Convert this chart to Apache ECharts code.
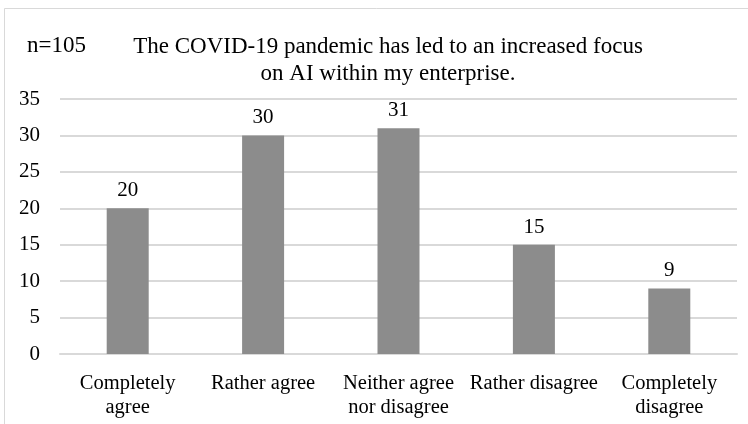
<!DOCTYPE html>
<html>
<head>
<meta charset="utf-8">
<script src="https://cdn.jsdelivr.net/npm/echarts@6/dist/echarts.min.js"></script>
<style>
  html, body { margin: 0; padding: 0; background: #fff; }
  #chart { width: 748px; height: 424px; }
</style>
</head>
<body>
<div id="chart"></div>
<script>
(function(){

    var categories = ['Completely\nagree', 'Rather agree', 'Neither agree\nnor disagree', 'Rather disagree', 'Completely\ndisagree'],
        values = [20, 30, 31, 15, 9],
        sampleLabel = 'n=105',
        titleText = 'The COVID-19 pandemic has led to an increased focus\non AI within my enterprise.',
        serif = '"Liberation Serif", "DejaVu Serif", serif',
        chart = echarts.init(document.getElementById('chart'))

    var option = {
        backgroundColor: '#fff',
        animation: false,
        graphic: [{
            type: 'rect',
            shape: { x: 4.5, y: 8.5, width: 760, height: 440 },
            style: { fill: 'none', stroke: '#d9d9d9', lineWidth: 1 }
        }],
        title: [
            {
                text: sampleLabel,
                left: 22,
                top: 29,
                textStyle: { fontFamily: serif, fontSize: 23, fontWeight: 'normal', color: '#000' }
            },
            {
                text: titleText,
                left: 383,
                top: 28,
                textAlign: 'center',
                textStyle: { fontFamily: serif, fontSize: 23, fontWeight: 'normal', color: '#000', lineHeight: 27, align: 'center' }
            }
        ],
        grid: { left: 60, right: 11, top: 99, bottom: 70, containLabel: false },
        xAxis: {
            type: 'category',
            data: categories,
            axisTick: { show: false },
            axisLine: { lineStyle: { color: '#d9d9d9', width: 2 } },
            axisLabel: {
                interval: 0,
                margin: 18,
                fontFamily: serif,
                fontSize: 20.5,
                lineHeight: 24,
                color: '#000'
            }
        },
        yAxis: {
            type: 'value',
            min: 0,
            max: 35,
            interval: 5,
            axisLine: { show: false },
            axisTick: { show: false },
            splitLine: { lineStyle: { color: '#d9d9d9', width: 2 } },
            axisLabel: { margin: 20, fontFamily: serif, fontSize: 21, color: '#000' }
        },
        series: [{
            type: 'bar',
            data: values,
            barWidth: 42,
            itemStyle: { color: '#8c8c8c' },
            label: {
                show: true,
                position: 'top',
                distance: 7,
                fontFamily: serif,
                fontSize: 21,
                color: '#000'
            }
        }]
    }

    chart.setOption(option)

})()
</script>
</body>
</html>
